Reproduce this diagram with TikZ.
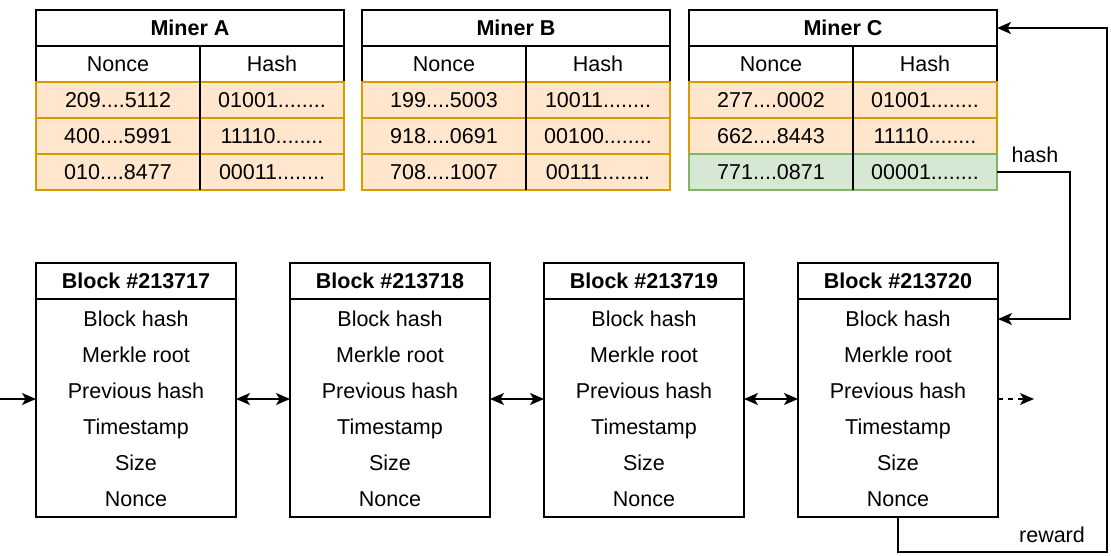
\documentclass[tikz,border=0pt]{standalone}
\usepackage{fontspec}
\setmainfont{Liberation Sans}
\usetikzlibrary{arrows.meta}
\definecolor{orangeF}{HTML}{FFE6CC}
\definecolor{orangeS}{HTML}{D79B00}
\definecolor{greenF}{HTML}{D5E8D4}
\definecolor{greenS}{HTML}{82B366}
\tikzset{
  base/.style={font=\fontsize{21.5}{24}\selectfont, inner sep=0pt, outer sep=0pt, line width=1.3pt, text height=17.5pt, text depth=2.5pt},
  cell/.style={base, draw, minimum height=36pt},
  orangerow/.style={cell, draw=orangeS, fill=orangeF},
  greenrow/.style={cell, draw=greenS, fill=greenF},
  ttl/.style={cell, font=\fontsize{21.5}{24}\selectfont\bfseries},
  txt/.style={base},
  arr/.style={line width=1.3pt, -{Stealth[length=14pt,width=12pt,inset=3.5pt]}},
  darr/.style={line width=1.3pt, {Stealth[length=14pt,width=12pt,inset=3.5pt]}-{Stealth[length=14pt,width=12pt,inset=3.5pt]}},
}
\newcommand\minerhead[3]{%
  \node[ttl, minimum width=308pt] (#1-t) at ({#2+154},28) {#3};
  \node[cell, minimum width=164pt] (#1-hn) at ({#2+82},64) {Nonce};
  \node[cell, minimum width=144pt] (#1-hh) at ({#2+236},64) {Hash};
}
\newcommand\minerrow[7]{%
  \node[#5, minimum width=164pt] (#1-r#2n) at ({#3+82},#4) {#6};
  \node[#5, minimum width=144pt] (#1-r#2h) at ({#3+236},#4) {#7};
}
\newcommand\minerdiv[1]{%
  \draw[line width=1.3pt] (#1-hn.north east) -- (#1-r3n.south east);
}
\newcommand\blockbox[3]{%
  \node[ttl, minimum width=200pt] (#1-t) at ({#2+100},281) {#3};
  \node[cell, minimum width=200pt, minimum height=218pt] (#1) at ({#2+100},408) {};
  \node[txt] (#1-1) at ({#2+100},319) {Block hash};
  \node[txt] (#1-2) at ({#2+100},355) {Merkle root};
  \node[txt] (#1-3) at ({#2+100},391) {Previous hash};
  \node[txt] (#1-4) at ({#2+100},427) {Timestamp};
  \node[txt] (#1-5) at ({#2+100},463) {Size};
  \node[txt] (#1-6) at ({#2+100},499) {Nonce};
}
\begin{document}
\begin{tikzpicture}[x=1pt,y=-1pt]
\useasboundingbox (0,0) rectangle (1111,555);
% Miner tables
\minerhead{A}{36}{Miner A}
\minerrow{A}{1}{36}{100}{orangerow}{209....5112}{01001........}
\minerrow{A}{2}{36}{136}{orangerow}{400....5991}{11110........}
\minerrow{A}{3}{36}{172}{orangerow}{010....8477}{00011........}
\minerdiv{A}
\minerhead{B}{362}{Miner B}
\minerrow{B}{1}{362}{100}{orangerow}{199....5003}{10011........}
\minerrow{B}{2}{362}{136}{orangerow}{918....0691}{00100........}
\minerrow{B}{3}{362}{172}{orangerow}{708....1007}{00111........}
\minerdiv{B}
\minerhead{C}{689}{Miner C}
\minerrow{C}{1}{689}{100}{orangerow}{277....0002}{01001........}
\minerrow{C}{2}{689}{136}{orangerow}{662....8443}{11110........}
\minerrow{C}{3}{689}{172}{greenrow}{771....0871}{00001........}
\minerdiv{C}
% Blocks
\blockbox{b1}{36}{Block \#213717}
\blockbox{b2}{290}{Block \#213718}
\blockbox{b3}{544}{Block \#213719}
\blockbox{b4}{798}{Block \#213720}
% Connectors
\coordinate (ay) at (0,399);
\coordinate (dend) at (1034,399);
\coordinate (rw) at (1107,552);
\draw[arr] (ay) -- (ay -| b1.west);
\draw[darr] (ay -| b1.east) -- (ay -| b2.west);
\draw[darr] (ay -| b2.east) -- (ay -| b3.west);
\draw[darr] (ay -| b3.east) -- (ay -| b4.west);
\draw[arr, dashed, dash pattern=on 5pt off 5pt] (ay -| b4.east) -- (dend);
\draw[arr] (C-r3h.east) -- ++(73,0) |- (b4-1 -| b4.east);
\node[txt] (hashlbl) at (1035,155) {hash};
\draw[arr] (b4.south) |- (rw) |- (C-t.east);
\node[txt] (rewardlbl) at (1052,535) {reward};
\end{tikzpicture}
\end{document}
